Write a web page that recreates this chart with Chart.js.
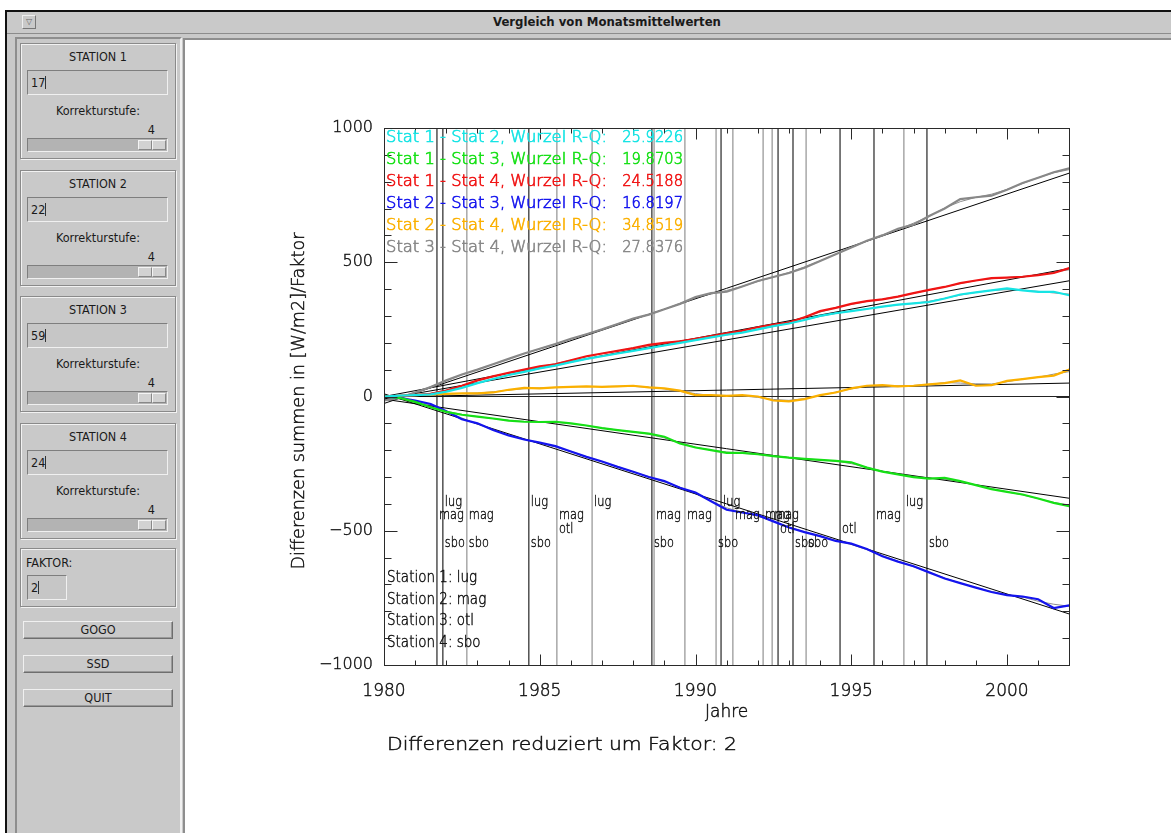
<!DOCTYPE html>
<html lang="de">
<head>
<meta charset="utf-8">
<title>Vergleich von Monatsmittelwerten</title>
<script src="https://cdn.jsdelivr.net/npm/chart.js@4.4.1/dist/chart.umd.min.js"></script>
<style>
  html, body { margin:0; padding:0; background:#fff; }
  body { position:relative; width:1171px; height:833px; overflow:hidden;
         font-family:'Liberation Sans Narrow','DejaVu Sans Condensed','DejaVu Sans',sans-serif; font-size:12px; color:#1a1a1a; }
  .abs { position:absolute; box-sizing:border-box; }
  #win { left:5px; top:10px; width:1166px; height:823px; background:#c9c9c9;
         border-top:2px solid #111; border-left:2px solid #111; }
  #titlebar { left:7px; top:12px; width:1164px; height:22px; background:#c9c9c9; border-bottom:1px solid #8c8c8c; }
  #title { left:607px; top:14px; transform:translateX(-50%); font-weight:bold; font-size:13px; white-space:nowrap; }
  #menubtn { left:22px; top:15px; width:14px; height:14px; border:1px solid; border-color:#eee #777 #777 #eee;
             font-size:8px; text-align:center; line-height:12px; color:#666; font-family:'DejaVu Sans',sans-serif; }
  #panel { left:15px; top:37px; width:167px; height:800px; border:2px solid; border-color:#8e8e8e #f0f0f0 #f0f0f0 #8e8e8e; }
  #plotbg { left:183px; top:38px; width:988px; height:800px; background:#fff; border-left:2px solid #8e8e8e; border-top:2px solid #8e8e8e; }
  .box { left:20px; width:156px; border:1px solid #8a8a8a; box-shadow: inset 1px 1px 0 #f2f2f2, 1px 1px 0 #f2f2f2; }
  .lbl { position:absolute; left:0; width:100%; text-align:center; font-size:12.5px; line-height:14px; }
  .field { position:absolute; left:6px; height:25px; background:#c6c6c6; border:1px solid; border-color:#7e7e7e #f0f0f0 #f0f0f0 #7e7e7e;
           font-size:12.5px; line-height:23px; padding-left:3px; box-sizing:border-box; }
  .caret { display:inline-block; width:1px; height:13px; background:#333; vertical-align:-2px; }
  .num { position:absolute; right:20px; top:79px; font-size:12.5px; line-height:14px; }
  .slider { position:absolute; left:6px; top:94px; width:141px; height:14px; background:#b3b3b3; box-sizing:border-box;
            border:1px solid; border-color:#7e7e7e #f0f0f0 #f0f0f0 #7e7e7e; }
  .thumb { position:absolute; left:110px; top:1px; width:14px; height:10px; background:#d2d2d2; box-sizing:border-box;
           border:1px solid; border-color:#f4f4f4 #888 #888 #f4f4f4; }
  .btn { left:23px; width:150px; height:18px; border:1px solid; border-color:#f0f0f0 #6e6e6e #6e6e6e #f0f0f0;
         box-shadow: inset -1px -1px 0 #9a9a9a; text-align:center; line-height:16px; font-size:12.5px; }
  #c { position:absolute; left:0; top:0; pointer-events:none; }
</style>
</head>
<body>
<div id="win" class="abs"></div>
<div id="titlebar" class="abs"></div>
<div id="menubtn" class="abs">&#9661;</div>
<div id="title" class="abs">Vergleich von Monatsmittelwerten</div>
<div id="panel" class="abs"></div>
<div id="plotbg" class="abs"></div>

<div class="abs box" style="top:43px;height:116px;">
  <div class="lbl" style="top:6px;">STATION 1</div>
  <div class="field" style="top:26px;width:141px;">17<span class="caret"></span></div>
  <div class="lbl" style="top:60px;">Korrekturstufe:</div>
  <div class="num">4</div>
  <div class="slider"><div class="thumb"></div><div class="thumb" style="left:124px;"></div></div>
</div>
<div class="abs box" style="top:170px;height:116px;">
  <div class="lbl" style="top:6px;">STATION 2</div>
  <div class="field" style="top:26px;width:141px;">22<span class="caret"></span></div>
  <div class="lbl" style="top:60px;">Korrekturstufe:</div>
  <div class="num">4</div>
  <div class="slider"><div class="thumb"></div><div class="thumb" style="left:124px;"></div></div>
</div>
<div class="abs box" style="top:296px;height:116px;">
  <div class="lbl" style="top:6px;">STATION 3</div>
  <div class="field" style="top:26px;width:141px;">59<span class="caret"></span></div>
  <div class="lbl" style="top:60px;">Korrekturstufe:</div>
  <div class="num">4</div>
  <div class="slider"><div class="thumb"></div><div class="thumb" style="left:124px;"></div></div>
</div>
<div class="abs box" style="top:423px;height:116px;">
  <div class="lbl" style="top:6px;">STATION 4</div>
  <div class="field" style="top:26px;width:141px;">24<span class="caret"></span></div>
  <div class="lbl" style="top:60px;">Korrekturstufe:</div>
  <div class="num">4</div>
  <div class="slider"><div class="thumb"></div><div class="thumb" style="left:124px;"></div></div>
</div>
<div class="abs box" style="top:548px;height:59px;">
  <div class="lbl" style="top:7px;left:5px;text-align:left;">FAKTOR:</div>
  <div class="field" style="top:26px;width:40px;">2<span class="caret"></span></div>
</div>
<div class="abs btn" style="top:621px;">GOGO</div>
<div class="abs btn" style="top:655px;">SSD</div>
<div class="abs btn" style="top:689px;">QUIT</div>

<canvas id="c" width="1171" height="833"></canvas>

<script>
// ---- monthly-mean difference sums (half-year samples), reduced by factor 2 ----
const years = [1980, 1980.5, 1981, 1981.5, 1982, 1982.5, 1983, 1983.5, 1984, 1984.5,
  1985, 1985.5, 1986, 1986.5, 1987, 1987.5, 1988, 1988.5, 1989, 1989.5,
  1990, 1990.5, 1991, 1991.5, 1992, 1992.5, 1993, 1993.5, 1994, 1994.5,
  1995, 1995.5, 1996, 1996.5, 1997, 1997.5, 1998, 1998.5, 1999, 1999.5,
  2000, 2000.5, 2001, 2001.5, 2002];

const stat12 = [0, 3, 5, 8, 18, 32, 50, 65, 80, 92, 105, 115, 128, 140, 150, 160, 170, 180, 190, 200,
  210, 220, 230, 238, 250, 262, 272, 285, 300, 310, 318, 326, 335, 342, 347, 352, 365, 380, 388, 395,
  403, 395, 390, 390, 377];
const stat13 = [0, -5, -20, -40, -57, -68, -75, -82, -90, -94, -95, -94, -100, -108, -118, -125, -132, -138, -150, -175,
  -190, -200, -210, -210, -215, -222, -228, -232, -236, -240, -245, -265, -280, -290, -300, -306, -303, -315, -330, -345,
  -355, -365, -380, -396, -408];
const stat14 = [0, 2, 5, 10, 22, 40, 60, 75, 88, 100, 112, 120, 135, 150, 160, 170, 180, 192, 200, 205,
  215, 225, 235, 245, 258, 268, 275, 295, 318, 330, 345, 355, 362, 372, 385, 397, 408, 422, 432, 441,
  443, 446, 452, 460, 478];
const stat23 = [0, -5, -15, -28, -55, -85, -100, -125, -145, -160, -172, -185, -205, -225, -242, -262, -280, -300, -315, -340,
  -358, -390, -422, -432, -442, -465, -488, -505, -520, -538, -548, -568, -595, -615, -632, -655, -678, -695, -712, -728,
  -740, -745, -755, -788, -778];
const stat24 = [0, 2, 5, 8, 10, 12, 12, 15, 25, 32, 30, 34, 36, 38, 36, 38, 40, 34, 30, 22,
  5, 5, 2, 5, 0, -15, -18, -10, 5, 15, 30, 40, 42, 38, 40, 45, 50, 60, 40, 42,
  58, 65, 72, 78, 100];
const stat34 = [-15, -5, 15, 35, 60, 82, 100, 120, 140, 160, 178, 195, 215, 232, 250, 270, 290, 305, 325, 345,
  370, 385, 390, 410, 430, 445, 460, 480, 505, 530, 555, 580, 600, 625, 640, 672, 700, 735, 742, 748,
  770, 795, 815, 835, 850];

// linear trend of each difference sum, value at 1980 and at 2002
const trend1980 = [-9, -10, 0, 10, -2, -26];
const trend2002 = [431, -379, 477, -810, 50, 832];

const pairLabels = ['Stat 1 - Stat 2', 'Stat 1 - Stat 3', 'Stat 1 - Stat 4',
                    'Stat 2 - Stat 3', 'Stat 2 - Stat 4', 'Stat 3 - Stat 4'];
const rmsValues = ['25.9226', '19.8703', '24.5188', '16.8197', '34.8519', '27.8376'];
const stationNames = ['lug', 'mag', 'otl', 'sbo'];

// station events (instrument changes etc.)
const eventYears = [1981.70, 1981.89, 1982.66, 1984.65, 1985.55, 1986.68, 1988.60, 1988.67, 1989.66,
  1990.66, 1990.82, 1991.20, 1992.17, 1992.46, 1992.65, 1993.13, 1993.55, 1994.64, 1995.73, 1996.69, 1997.43];
const eventStations = [['mag'], ['lug', 'sbo'], ['mag', 'sbo'], ['lug', 'sbo'], ['mag', 'otl'], ['lug'], ['sbo'], ['mag'], ['mag'],
  ['sbo'], ['lug'], ['mag'], ['mag'], ['mag'], ['otl'], ['sbo'], ['sbo'], ['otl'], ['mag'], ['lug'], ['sbo']];

const yTicks = [-1000, -500, 0, 500, 1000];
const xTicks = [1980, 1985, 1990, 1995, 2000];
const faktor = 2;

// ---- styling ----
const series = [stat12, stat13, stat14, stat23, stat24, stat34];
const seriesColors = ['#16e4e4', '#16e016', '#f01414', '#1414ee', '#fbb000', '#888888'];
const eventShade = ['#111', '#111', '#888', '#111', '#888', '#888', '#111', '#888', '#888',
  '#888', '#111', '#888', '#888', '#888', '#111', '#111', '#888', '#111', '#111', '#888', '#111'];
const FONT = "'DejaVu Sans', sans-serif";

function smooth(arr) {
  return arr.map((v, i) => (arr[Math.max(0, i - 1)] + v + arr[Math.min(arr.length - 1, i + 1)]) / 3);
}

const datasets = [];
series.forEach((s, k) => {
  datasets.push({ data: years.map((x, i) => ({ x, y: s[i] })), borderColor: seriesColors[k],
    borderWidth: 2.2, order: 0 });
  datasets.push({ data: years.map((x, i) => ({ x, y: smooth(s)[i] })), borderColor: '#8c8c8c',
    borderWidth: 1, order: 2 });
  datasets.push({ data: [{ x: 1980, y: trend1980[k] }, { x: 2002, y: trend2002[k] }], borderColor: '#000',
    borderWidth: 1, order: 1 });
});
datasets.push({ data: [{ x: 1980, y: 0 }, { x: 2002, y: 0 }], borderColor: '#222', borderWidth: 1, order: 3 });
eventYears.forEach((yr, i) => {
  datasets.push({ data: [{ x: yr, y: -1000 }, { x: yr, y: 1000 }], borderColor: eventShade[i],
    borderWidth: 1.1, order: 4 });
});

// thin vector-style lettering: light face with a hairline stroke
function drawText(ctx, str, x, y, size, color, align, sx, stroke = 0.45) {
  ctx.save();
  ctx.font = `200 ${size}px ${FONT}`;
  ctx.fillStyle = color;
  ctx.strokeStyle = color;
  ctx.lineWidth = stroke;
  ctx.textBaseline = 'middle';
  ctx.textAlign = 'left';
  const w = ctx.measureText(str).width * sx;
  const x0 = align === 'right' ? x - w : align === 'center' ? x - w / 2 : x;
  ctx.translate(x0, y);
  ctx.scale(sx, 1);
  ctx.fillText(str, 0, 0);
  if (stroke > 0) ctx.strokeText(str, 0, 0);
  ctx.restore();
}
function fitText(ctx, str, x0, x1, y, size, color, stroke) {
  ctx.save();
  ctx.font = `200 ${size}px ${FONT}`;
  const sx = (x1 - x0) / ctx.measureText(str).width;
  ctx.restore();
  drawText(ctx, str, x0, y, size, color, 'left', sx, stroke);
}

const idlDecor = {
  id: 'idlDecor',
  afterDraw(chart) {
    const { ctx, chartArea: a, scales: { x, y } } = chart;
    ctx.save();
    // plot frame and inward ticks on all four sides
    ctx.strokeStyle = '#2a2a2a';
    ctx.lineWidth = 1;
    const L = Math.round(a.left) + 0.5, R = Math.round(a.right) + 0.5;
    const T = Math.round(a.top) + 0.5, B = Math.round(a.bottom) + 0.5;
    ctx.strokeRect(L, T, R - L, B - T);
    ctx.beginPath();
    for (let v = 1981; v < 2002; v++) {
      const px = Math.round(x.getPixelForValue(v)) + 0.5;
      const len = v % 5 === 0 ? 11 : 5;
      ctx.moveTo(px, B); ctx.lineTo(px, B - len);
      ctx.moveTo(px, T); ctx.lineTo(px, T + len);
    }
    for (let v = -900; v < 1000; v += 100) {
      const py = Math.round(y.getPixelForValue(v)) + 0.5;
      const len = v % 500 === 0 ? 13 : 7;
      ctx.moveTo(L, py); ctx.lineTo(L + len, py);
      ctx.moveTo(R, py); ctx.lineTo(R - len, py);
    }
    ctx.stroke();
    ctx.restore();

    // event labels, one row per station
    const rowValue = { lug: -393, mag: -445, otl: -497, sbo: -546 };
    eventYears.forEach((yr, i) => {
      eventStations[i].forEach(st => {
        drawText(ctx, st, x.getPixelForValue(yr) + 2, y.getPixelForValue(rowValue[st]), 13.5, '#111', 'left', 0.84, 0.4);
      });
    });

    // RMS legend
    pairLabels.forEach((lab, i) => {
      const yy = a.top + 10 + i * 22.1;
      fitText(ctx, lab + ', Wurzel R-Q:', a.left + 2, a.left + 223, yy, 15, seriesColors[i], 0.6);
      drawText(ctx, rmsValues[i], a.left + 299, yy, 15, seriesColors[i], 'right', 0.98, 0.6);
    });

    // station key
    stationNames.forEach((nm, i) => {
      drawText(ctx, `Station ${i + 1}: ${nm}`, a.left + 3, a.bottom - 87 + i * 21.8, 15, '#111', 'left', 0.9);
    });

    // axis titles and note
    drawText(ctx, 'Jahre', (a.left + a.right) / 2, a.bottom + 48, 17, '#111', 'center', 1);
    fitText(ctx, `Differenzen reduziert um Faktor: ${faktor}`, a.left + 3, a.left + 353, a.bottom + 81, 17, '#111', 0.45);
    ctx.save();
    ctx.translate(a.left - 84, (a.top + a.bottom) / 2 + 5);
    ctx.rotate(-Math.PI / 2);
    fitText(ctx, 'Differenzen summen in [W/m2]/Faktor', -168, 169, 0, 17, '#111', 0.45);
    ctx.restore();
  }
};

new Chart(document.getElementById('c'), {
  type: 'line',
  data: { datasets },
  options: {
    responsive: false,
    animation: false,
    events: [],
    elements: { point: { radius: 0 }, line: { tension: 0 } },
    layout: { padding: { left: 304, top: 128, right: 101.7, bottom: 128 } },
    plugins: { legend: { display: false }, tooltip: { enabled: false } },
    scales: {
      x: {
        type: 'linear', min: 1980, max: 2002,
        afterBuildTicks: ax => { ax.ticks = xTicks.map(v => ({ value: v })); },
        afterFit: ax => { ax.height = 40; },
        grid: { display: false, drawTicks: false },
        border: { display: false },
        ticks: { padding: 16, color: '#111', textStrokeColor: '#111', textStrokeWidth: 0.45,
                 font: { family: FONT, size: 17, weight: '200' },
                 maxRotation: 0, callback: v => String(v) }
      },
      y: {
        type: 'linear', min: -1000, max: 1000,
        afterBuildTicks: ax => { ax.ticks = yTicks.map(v => ({ value: v })); },
        afterFit: ax => { ax.width = 80; },
        grid: { display: false, drawTicks: false },
        border: { display: false },
        ticks: { padding: 11, color: '#111', textStrokeColor: '#111', textStrokeWidth: 0.45,
                 font: { family: FONT, size: 16, weight: '200' },
                 callback: v => (v < 0 ? '\u2212' + Math.abs(v) : String(v)) }
      }
    }
  },
  plugins: [idlDecor]
});
</script>
</body>
</html>
